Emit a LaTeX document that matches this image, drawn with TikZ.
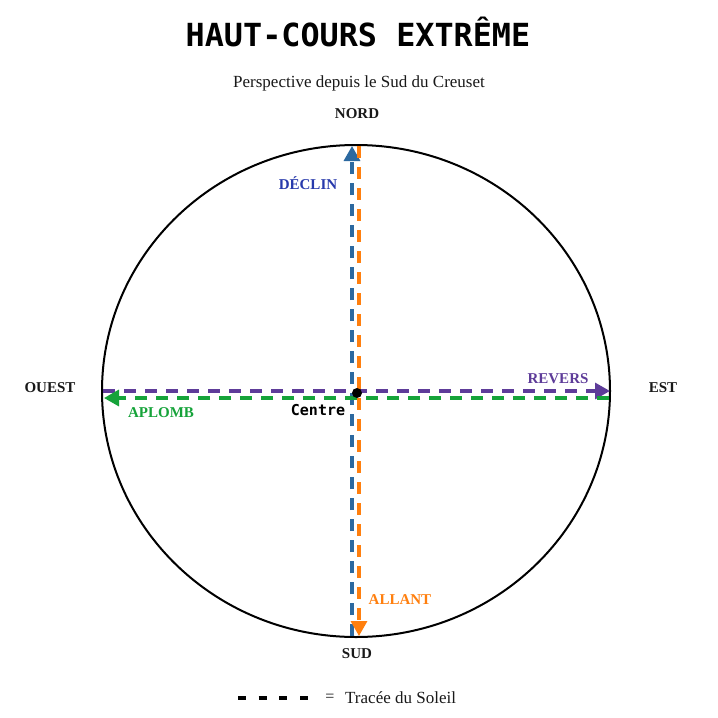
\documentclass[tikz,border=0pt]{standalone}
\usepackage{fontspec}
\setmainfont{Liberation Serif}
\newfontfamily\titlemono{DejaVu Sans Mono}
\usetikzlibrary{arrows.meta,shapes.geometric}
\definecolor{cblue}{RGB}{44,105,160}
\definecolor{cblueT}{RGB}{40,58,172}
\definecolor{corange}{RGB}{255,127,14}
\definecolor{cpurple}{RGB}{94,60,153}
\definecolor{cgreen}{RGB}{22,163,58}
\definecolor{ctext}{RGB}{25,25,25}
\tikzset{
  sunpath/.style={line width=3.3pt, dash pattern=on 12pt off 9pt, -{Triangle[length=15pt,width=16pt]}},
  compass/.style={font=\fontsize{15}{15}\selectfont\bfseries, text=ctext, inner sep=0pt},
  pathlabel/.style={font=\fontsize{15}{15}\selectfont\bfseries, inner sep=0pt}
}
\begin{document}
\begin{tikzpicture}[x=1pt,y=-1pt]
\useasboundingbox[fill=white] (0,0) rectangle (718,718);
% title
\node[font=\titlemono\bfseries\fontsize{31.8}{31.8}\selectfont, inner sep=0pt] (title) at (358,32) {HAUT-COURS EXTRÊME};
\node[font=\fontsize{17}{17}\selectfont, text=ctext, inner sep=0pt] (subtitle) at (359,83) {Perspective depuis le Sud du Creuset};
% horizon
\node[draw, ellipse, line width=2pt, minimum width=508pt, minimum height=492pt, inner sep=0pt] (horizon) at (356,391) {};
% compass labels
\node[compass] (nord) at (357,114) {NORD};
\node[compass] (sud) at (357,654) {SUD};
\node[compass] (ouest) at (50,388) {OUEST};
\node[compass] (est) at (663,388) {EST};
% path end points
\coordinate (bS) at (352,636);
\coordinate (bN) at (352,146);
\coordinate (oN) at (359,146);
\coordinate (oS) at (359,636);
\coordinate (pW) at (103,391);
\coordinate (pE) at (610,391);
\coordinate (gE) at (609,398);
\coordinate (gW) at (104,398);
% sun paths
\draw[sunpath, cblue] (bS) -- (bN);
\draw[sunpath, corange] (oN) -- (oS);
\draw[sunpath, cpurple] (pW) -- (pE);
\draw[sunpath, cgreen] (gE) -- (gW);
% centre
\node[circle, fill=black, inner sep=0pt, minimum size=10pt] (centre) at (357,393) {};
\node[font=\titlemono\bfseries\fontsize{15}{15}\selectfont, inner sep=0pt] (centrelabel) at (318,410) {Centre};
% path labels
\node[pathlabel, text=cblueT] (declin) at (308,183) {DÉCLIN};
\node[pathlabel, text=cpurple] (revers) at (558,379) {REVERS};
\node[pathlabel, text=cgreen] (aplomb) at (161,413) {APLOMB};
\node[pathlabel, text=corange] (allant) at (400,600) {ALLANT};
% legend
\coordinate (lgA) at (238,698);
\coordinate (lgB) at (308,698);
\draw[line width=3.3pt, dash pattern=on 8pt off 12.67pt] (lgA) -- (lgB);
\node[font=\fontsize{16}{16}\selectfont, text=ctext, inner sep=0pt] (eq) at (330,698) {=};
\node[font=\fontsize{17}{17}\selectfont, text=ctext, inner sep=0pt, anchor=west] (legend) at (345,698) {Tracée du Soleil};
\end{tikzpicture}
\end{document}
